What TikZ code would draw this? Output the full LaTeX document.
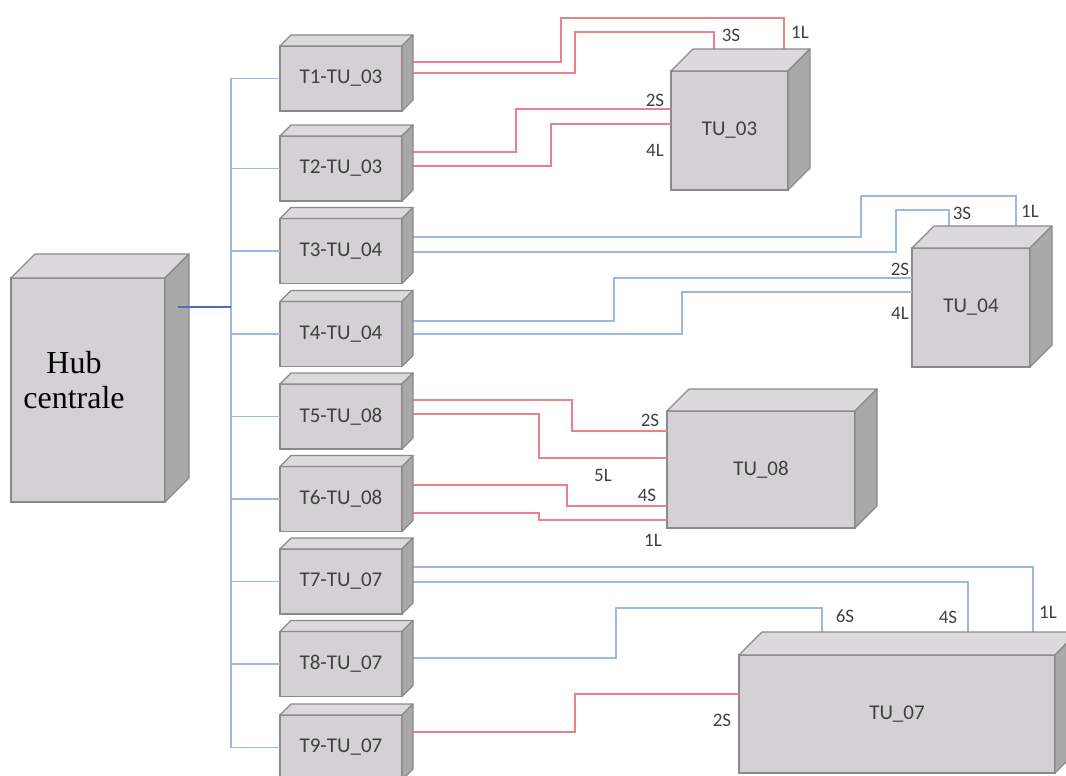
\documentclass[tikz,border=0pt]{standalone}
\usepackage{fontspec}
\setmainfont{Carlito}
\newfontfamily\hubfont{Liberation Serif}
\usetikzlibrary{calc}

\definecolor{facefront}{RGB}{211,209,211}
\definecolor{facetop}{RGB}{219,217,219}
\definecolor{faceside}{RGB}{170,169,170}
\definecolor{edgegray}{RGB}{138,138,138}
\definecolor{wirered}{RGB}{233,128,138}
\definecolor{wireblue}{RGB}{158,184,230}
\definecolor{hubblue}{RGB}{72,112,192}
\definecolor{labelgray}{RGB}{64,64,64}

\begin{document}
\begin{tikzpicture}[
    x=1pt, y=-1pt,
    unit/.style={draw=edgegray, fill=facefront, line width=1.2pt, outer sep=0pt,
      inner sep=0pt, text=labelgray, font=\fontsize{21}{25}\selectfont},
    tbox/.style={unit, minimum width=122pt, minimum height=65pt},
    face/.style={draw=edgegray, line width=1.2pt, line join=round},
    redwire/.style={wirered, line width=1.3pt},
    bluewire/.style={wireblue, line width=1.3pt},
    hublink/.style={hubblue, line width=1.4pt},
    port/.style={text=labelgray, inner sep=0pt, font=\fontsize{19}{22}\selectfont},
  ]
    \useasboundingbox (0,0) rectangle (1066,776);
    % hub
    \node[unit, minimum width=154pt, minimum height=224pt,
      label={[font=\hubfont\fontsize{32}{35}\selectfont, align=center, text=black,
        xshift=-14pt, yshift=10pt]center:Hub\\centrale}] (hub) at (88,390) {};
    % terminals
    \node[tbox] (t1) at (341,78.5)  {T1-TU\_03};
    \node[tbox] (t2) at (341,168.5) {T2-TU\_03};
    \node[tbox] (t3) at (341,251)   {T3-TU\_04};
    \node[tbox] (t4) at (341,334)   {T4-TU\_04};
    \node[tbox] (t5) at (341,416.5) {T5-TU\_08};
    \node[tbox] (t6) at (341,499)   {T6-TU\_08};
    \node[tbox] (t7) at (341,581.5) {T7-TU\_07};
    \node[tbox] (t8) at (341,664)   {T8-TU\_07};
    \node[tbox] (t9) at (341,747.5) {T9-TU\_07};
    % units
    \node[unit, minimum width=117pt, minimum height=119pt] (tu03) at (729.5,130.5) {TU\_03};
    \node[unit, minimum width=118pt, minimum height=119pt] (tu04) at (971,307.5)   {TU\_04};
    \node[unit, minimum width=188pt, minimum height=117pt] (tu08) at (761,469.5)   {TU\_08};
    \node[unit, minimum width=316pt, minimum height=118pt] (tu07) at (897,714)     {TU\_07};
    % bus
    \coordinate (bus) at (231,307);
    \draw[bluewire] (t1.west -| bus) -- (t9.west -| bus);
    \foreach \i in {1,...,9}
      \draw[bluewire] (t\i.west -| bus) -- (t\i.west);
    % TU_03
    \draw[redwire] ([yshift=16.5pt]t1.east) -| (561,18) -| ([xshift=113pt]tu03.north west);
    \draw[redwire] ([yshift=5.5pt]t1.east) -| (575,32) -| ([xshift=43pt]tu03.north west);
    \draw[redwire] ([yshift=16.5pt]t2.east) -| (516,109) -- ([yshift=21.5pt]tu03.west);
    \draw[redwire] ([yshift=2.5pt]t2.east) -| (551,124) -- ([yshift=6.5pt]tu03.west);
    % TU_04
    \draw[bluewire] ([yshift=14pt]t3.east) -| (861,196) -| ([xshift=104pt]tu04.north west);
    \draw[bluewire] ([yshift=-1pt]t3.east) -| (896,210) -| ([xshift=37pt]tu04.north west);
    \draw[bluewire] ([yshift=13pt]t4.east) -| (614,278) -- ([yshift=29.5pt]tu04.west);
    \draw[bluewire] (t4.east) -| (682,292) -- ([yshift=15.5pt]tu04.west);
    % TU_08
    \draw[redwire] ([yshift=16.5pt]t5.east) -| (572,431) -- ([yshift=38.5pt]tu08.west);
    \draw[redwire] ([yshift=2.5pt]t5.east) -| (539,458) -- ([yshift=11.5pt]tu08.west);
    \draw[redwire] ([yshift=14pt]t6.east) -| (567,506) -- ([yshift=-36.5pt]tu08.west);
    \draw[redwire] ([yshift=-14pt]t6.east) -| (539,520) -- ([yshift=-50.5pt]tu08.west);
    % TU_07
    \draw[bluewire] ([yshift=14.5pt]t7.east) -| ([xshift=294pt]tu07.north west);
    \draw[bluewire] ([yshift=-0.5pt]t7.east) -| ([xshift=229pt]tu07.north west);
    \draw[bluewire] ([yshift=6pt]t8.east) -| (616,608) -| ([xshift=83pt]tu07.north west);
    \draw[redwire] ([yshift=15.5pt]t9.east) -| (575,694) -- ([yshift=20pt]tu07.west);
    % top and side faces
    \foreach \n/\d in {hub/24, t1/11, t2/11, t3/11, t4/11, t5/11, t6/11, t7/11, t8/11,
        t9/11, tu03/22, tu04/22, tu08/22, tu07/23} {
      \filldraw[face, fill=facetop] (\n.north west) -- ++(\d,-\d)
        -- ([shift={(\d,-\d)}]\n.north east) -- (\n.north east) -- cycle;
      \filldraw[face, fill=faceside] (\n.north east) -- ++(\d,-\d)
        -- ([shift={(\d,-\d)}]\n.south east) -- (\n.south east) -- cycle;
    }
    \draw[hublink] ([xshift=13pt,yshift=83pt]hub.east) -- (bus);
    % port labels
    \node[port] (p03c) at (731,35)  {3S};
    \node[port] (p03a) at (800,32)  {1L};
    \node[port] (p03b) at (655,100) {2S};
    \node[port] (p03d) at (655,150) {4L};
    \node[port] (p04c) at (962,213) {3S};
    \node[port] (p04a) at (1030,211) {1L};
    \node[port] (p04b) at (900,269) {2S};
    \node[port] (p04d) at (900,313) {4L};
    \node[port] (p08b) at (650,420) {2S};
    \node[port] (p08e) at (603,475) {5L};
    \node[port] (p08d) at (647,495) {4S};
    \node[port] (p08a) at (653,540) {1L};
    \node[port] (p07f) at (845,616) {6S};
    \node[port] (p07d) at (948,617) {4S};
    \node[port] (p07a) at (1048,612) {1L};
    \node[port] (p07b) at (722,720) {2S};
  \end{tikzpicture}
\end{document}
